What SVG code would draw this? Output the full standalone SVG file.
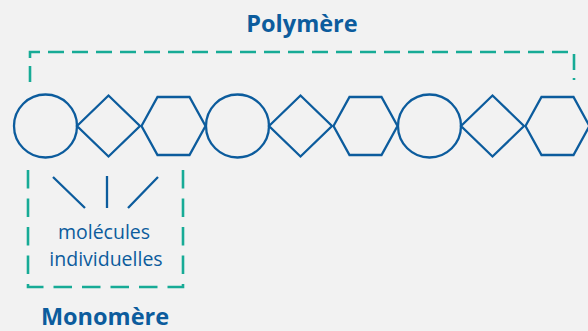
<svg xmlns="http://www.w3.org/2000/svg" width="588" height="331" viewBox="0 0 588 331">
<style>
.s{fill:none;stroke:#0c5c9d;stroke-width:2.3}
.d{fill:none;stroke:#17ab96;stroke-width:2.6}
.d1{stroke-dasharray:16 8}
.d2{stroke-dasharray:18.5 10}
.t{font-family:"Open Sans","Noto Sans",sans-serif;fill:#0c5c9d;text-anchor:middle}
.b{font-weight:bold;font-size:23.5px}
.n{font-size:19.5px}
</style>
<defs>
<circle id="c" r="31.5" class="s"/>
<polygon id="q" points="-31.5,0 0,-30.5 31.5,0 0,30.5" class="s"/>
<polygon id="h" points="-32,0 -16,-29 16,-29 32,0 16,29 -16,29" class="s"/>
</defs>
<rect width="588" height="331" fill="#f2f2f2"/>
<g id="polymere-label"><text class="t b" x="302" y="32">Polymère</text></g>
<g id="connectors">
<path class="d d1" d="M30,82 V52 H574 V80"/>
<path class="d d2" d="M28,170 V287 H183 V170"/>
<path class="s" d="M53,177 L85,208 M107,176 V208 M158,177 L128,208"/>
</g>
<g id="chain">
<use id="c1" href="#c" x="45.5" y="126"/>
<use id="q1" href="#q" x="108.5" y="126"/>
<use id="h1" href="#h" x="173.5" y="126"/>
<use id="c2" href="#c" x="237.5" y="126"/>
<use id="q2" href="#q" x="300.5" y="126"/>
<use id="h2" href="#h" x="365.5" y="126"/>
<use id="c3" href="#c" x="429.5" y="126"/>
<use id="q3" href="#q" x="492.5" y="126"/>
<use id="h3" href="#h" x="557.5" y="126"/>
</g>
<g id="monomere-box">
<text class="t n" x="104" y="239">molécules</text>
<text class="t n" x="106" y="266">individuelles</text>
</g>
<g id="monomere-label"><text class="t b" x="105" y="325">Monomère</text></g>
</svg>
